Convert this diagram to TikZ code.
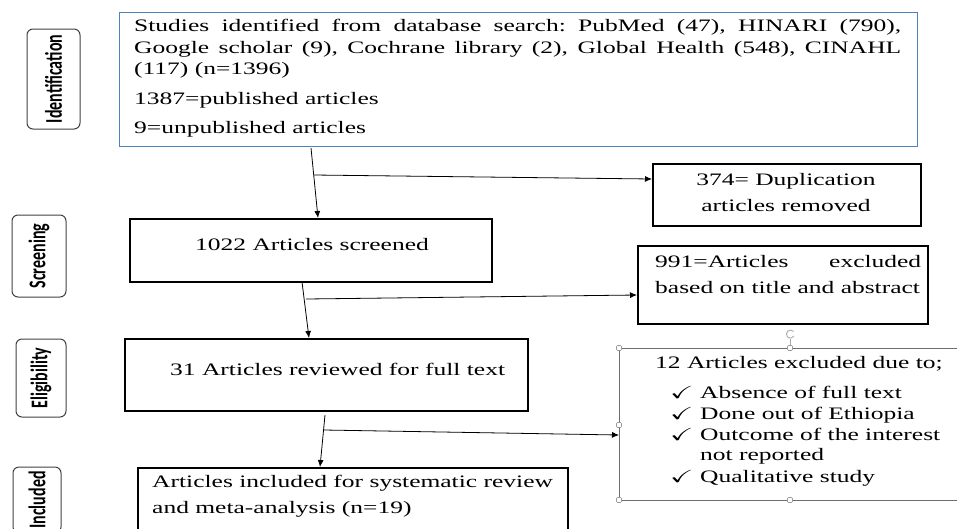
\documentclass[tikz,border=0pt]{standalone}
\usepackage{fontspec}
\usepackage{amssymb}
\usepackage{graphicx}
\setmainfont{Liberation Serif}
\newfontfamily\tnr[FakeStretch=1.457]{Liberation Serif}
\newfontfamily\lblf[FakeStretch=0.667]{Carlito}
\usetikzlibrary{arrows.meta}
\definecolor{idblue}{RGB}{79,129,189}
\definecolor{hgrey}{RGB}{110,110,110}
\newcommand{\tick}{\scalebox{1.6}[1]{$\checkmark$}}
\frenchspacing
\begin{document}
\begin{tikzpicture}[x=1pt,y=-1pt,
  txt/.style={inner sep=0pt, anchor=base west, font=\tnr\fontsize{17.5}{21.5}\selectfont},
  ctxt/.style={txt, anchor=base},
  frame/.style={draw=black, line width=1.7pt, inner sep=0pt, anchor=north west},
  lab/.style={draw=black!75, line width=1pt, rounded corners=6pt, rotate=90, inner sep=0pt, font=\lblf\bfseries\fontsize{24}{28}\selectfont},
  arr/.style={line width=0.8pt, -{Latex[length=7pt,width=6pt]}},
  handle/.style={draw=hgrey!70, fill=white, line width=0.6pt, rounded corners=1pt, minimum size=5pt, inner sep=0pt}
]
\useasboundingbox (0,0) rectangle (957,528);

% stage labels
\node[lab, minimum width=100pt, minimum height=53pt] (L1) at (53.5,79) {Identification};
\node[lab, minimum width=82pt, minimum height=54pt] (L2) at (39,256) {Screening};
\node[lab, minimum width=78pt, minimum height=50pt] (L3) at (41,378) {Eligibility};
\node[lab, minimum width=66pt, minimum height=48pt] (L4) at (37,500) {Included};

% boxes
\node[frame, draw=idblue, line width=1.4pt, minimum width=798pt, minimum height=134pt] (ident) at (119,12) {};
\node[frame, minimum width=268pt, minimum height=62pt] (dup) at (652,163) {};
\node[frame, minimum width=362pt, minimum height=63pt] (screen) at (129,218) {};
\node[frame, minimum width=290pt, minimum height=78pt] (excl) at (637,245) {};
\node[frame, minimum width=403pt, minimum height=72pt] (elig) at (124,338) {};
\node[frame, minimum width=430pt, minimum height=90pt] (incl) at (137,467) {};
\node[frame, draw=hgrey, line width=1.2pt, minimum width=341pt, minimum height=152pt] (full) at (619,348) {};

% texts
\node[txt] (t1a) at (134,31.7) {\makebox[767pt][s]{Studies identified from database search: PubMed (47), HINARI (790),}};
\node[txt] (t1b) at (134,53) {\makebox[767pt][s]{Google scholar (9), Cochrane library (2), Global Health (548), CINAHL}};
\node[txt] (t1c) at (134,74.5) {(117) (n=1396)};
\node[txt] (t1d) at (134,104) {1387=published articles};
\node[txt] (t1e) at (134,133) {9=unpublished articles};

\node[ctxt] (t2a) at (786,185) {374= Duplication};
\node[ctxt] (t2b) at (786,211) {articles removed};

\node[txt] (t3) at (195,250) {1022 Articles screened};

\node[txt] (t4a) at (655,267) {\makebox[266pt][s]{991=Articles excluded}};
\node[txt] (t4b) at (655,293) {based on title and abstract};

\node[txt] (t5) at (170,375) {31 Articles reviewed for full text};

\node[txt] (t6a) at (152,487) {Articles included for systematic review};
\node[txt] (t6b) at (152,513) {and meta-analysis (n=19)};

\node[txt] (t7) at (655,368) {12 Articles excluded due to;};
\node[txt] (k1) at (670,398) {\tick};
\node[txt] (r1) at (700,398) {Absence of full text};
\node[txt] (k2) at (670,419) {\tick};
\node[txt] (r2) at (700,419) {Done out of Ethiopia};
\node[txt] (k3) at (670,440) {\tick};
\node[txt] (r3) at (700,440) {Outcome of the interest};
\node[txt] (r3b) at (700,460.5) {not reported};
\node[txt] (k4) at (670,482) {\tick};
\node[txt] (r4) at (700,482) {Qualitative study};

% selection handles of the last box
\draw[hgrey!60, line width=0.6pt] (790,347) -- (790,339);
\draw[hgrey!60, line width=0.9pt] (793.5,331.5) arc[start angle=40, end angle=330, radius=4pt];
\node[handle] (h1) at (619,348) {};
\node[handle] (h2) at (790,348) {};
\node[handle] (h3) at (619,425) {};
\node[handle] (h4) at (619,500) {};
\node[handle] (h5) at (790,500) {};
\node[handle] (h6) at (960,348) {};
\node[handle] (h7) at (960,425) {};
\node[handle] (h8) at (960,500) {};

% connectors
\coordinate (a1s) at (311,148); \coordinate (a1e) at (318,218);
\coordinate (b1s) at (314,175); \coordinate (b1e) at (652,179);
\coordinate (a2s) at (302,282); \coordinate (a2e) at (309,338);
\coordinate (b2s) at (306,299); \coordinate (b2e) at (637,295);
\coordinate (a3s) at (325,415); \coordinate (a3e) at (320,467);
\coordinate (b3s) at (324,430); \coordinate (b3e) at (619,435);
\draw[arr] (a1s) -- (a1e);
\draw[arr] (b1s) -- (b1e);
\draw[arr] (a2s) -- (a2e);
\draw[arr] (b2s) -- (b2e);
\draw[arr] (a3s) -- (a3e);
\draw[arr] (b3s) -- (b3e);
\end{tikzpicture}
\end{document}
